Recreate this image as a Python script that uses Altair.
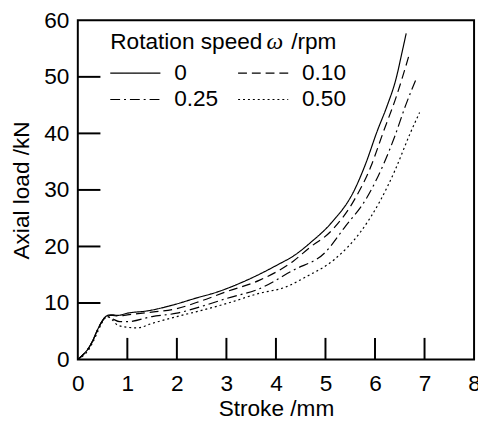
import altair as alt
import pandas as pd

# ---------------- data ----------------
series = ["0", "0.10", "0.25", "0.50"]

x_0 = [0, 0.1, 0.2, 0.3, 0.4, 0.5, 0.6, 0.7, 0.8, 1.0, 1.4, 1.9, 2.4, 2.8, 3.3, 4.0, 4.4, 4.7, 5.1, 5.58, 5.81, 6.04, 6.25, 6.42, 6.55, 6.63]
y_0 = [0, 0.8, 1.8, 3.3, 5.3, 6.9, 7.8, 7.9, 7.8, 8.2, 8.6, 9.6, 10.9, 11.9, 13.6, 16.6, 18.6, 20.7, 24.0, 29.9, 34.6, 40.3, 45.0, 49.5, 54.5, 57.7]

x_010 = [0, 0.1, 0.2, 0.3, 0.4, 0.5, 0.6, 0.7, 0.8, 1.0, 1.4, 2.0, 2.5, 3.0, 3.66, 4.35, 4.68, 5.1, 5.58, 5.91, 6.17, 6.43, 6.69]
y_010 = [0, 0.8, 1.8, 3.3, 5.3, 6.9, 7.8, 7.8, 7.7, 7.9, 8.3, 9.0, 10.4, 12.0, 14.0, 17.4, 19.8, 22.6, 28.2, 34.0, 40.3, 46.5, 53.9]

x_025 = [0, 0.1, 0.2, 0.3, 0.4, 0.5, 0.6, 0.7, 0.85, 1.0, 1.5, 2.0, 2.5, 3.0, 3.66, 4.35, 5.0, 5.38, 5.84, 6.17, 6.40, 6.62, 6.83]
y_025 = [0, 0.8, 1.8, 3.3, 5.3, 6.9, 7.6, 7.2, 6.7, 6.7, 7.6, 8.2, 9.4, 10.8, 12.5, 15.8, 19.0, 23.3, 28.7, 34.5, 39.5, 45.0, 49.6]

x_050 = [0, 0.1, 0.2, 0.3, 0.4, 0.5, 0.6, 0.7, 0.8, 1.0, 1.2, 1.5, 2.0, 2.5, 3.0, 3.66, 4.19, 4.6, 5.18, 5.71, 6.10, 6.40, 6.71, 6.90]
y_050 = [0, 0.6, 1.5, 3.0, 4.9, 6.7, 7.6, 7.0, 6.1, 5.7, 5.6, 6.4, 7.6, 8.7, 9.9, 11.7, 12.8, 14.6, 17.7, 22.6, 28.0, 33.4, 40.0, 43.7]

x_axis_values = [0, 1, 2, 3, 4, 5, 6, 7, 8]
y_axis_values = [0, 10, 20, 30, 40, 50, 60]
x_inner_ticks = [1, 2, 3, 4, 5, 6, 7]
y_inner_ticks = [10, 20, 30, 40, 50]

legend_title_a = "Rotation speed"
legend_title_b = "ω"
legend_title_c = "/rpm"

# ---------------- build tables ----------------
frames = []
for name, xs, ys in zip(series, [x_0, x_010, x_025, x_050], [y_0, y_010, y_025, y_050]):
    frames.append(pd.DataFrame({"stroke": xs, "load": ys, "speed": name}))
df = pd.concat(frames, ignore_index=True)

W, H = 403, 345
FONT = "Liberation Sans"
FS = 23

xscale = alt.Scale(domain=[0, 8], nice=False, zero=False)
yscale = alt.Scale(domain=[0, 60], nice=False)

lines = alt.Chart(df).mark_line(color="black", strokeWidth=1.2, interpolate="monotone").encode(
    x=alt.X("stroke:Q", scale=xscale,
            axis=alt.Axis(values=x_axis_values, title="Stroke /mm", ticks=False, tickSize=0,
                          domain=False, grid=False, labelPadding=14, titlePadding=2,
                          labelFlush=False)),
    y=alt.Y("load:Q", scale=yscale,
            axis=alt.Axis(values=y_axis_values, title="Axial load /kN", ticks=False, tickSize=0,
                          domain=False, grid=False, labelPadding=9, titlePadding=11)),
    strokeDash=alt.StrokeDash(
        "speed:N",
        scale=alt.Scale(domain=series, range=[[1, 0], [9, 5], [10, 4, 2, 4], [2, 3]]),
        legend=alt.Legend(orient="none", legendX=47, legendY=42, columns=2, direction="horizontal",
                          title=None,
                          symbolType="M-2.5,0H2.5", symbolSize=416, symbolStrokeWidth=1.2,
                          symbolStrokeColor="black", symbolFillColor="transparent",
                          labelFontSize=FS, labelFont=FONT,
                          labelColor="black", labelOffset=28, columnPadding=17,
                          rowPadding=3, padding=0),
    ),
)

ytick = alt.Chart(pd.DataFrame({"load": y_inner_ticks})).mark_rule(color="black", strokeWidth=2).encode(
    y=alt.Y("load:Q", scale=yscale), x=alt.value(0), x2=alt.value(23)
)
xtick = alt.Chart(pd.DataFrame({"stroke": x_inner_ticks})).mark_rule(color="black", strokeWidth=2).encode(
    x=alt.X("stroke:Q", scale=xscale), y=alt.value(H), y2=alt.value(H - 22)
)

def label(txt, xpos, size, font, style="normal"):
    return alt.Chart(pd.DataFrame({"t": [txt]})).mark_text(
        align="left", baseline="middle", fontSize=size, font=font, fontStyle=style, color="black"
    ).encode(text="t:N", x=alt.value(xpos), y=alt.value(22))

t1 = label(legend_title_a, 33, 23, FONT)
t2 = label(legend_title_b, 192, 24, "Liberation Serif", "italic")
t3 = label(legend_title_c, 217, 23, FONT)

chart = alt.layer(lines, ytick, xtick, t1, t2, t3).properties(
    width=W, height=H,
    autosize=alt.AutoSizeParams(type="none"),
    padding={"left": 71, "top": 9, "right": 4, "bottom": 60},
).configure_view(stroke="black", strokeWidth=2).configure_axis(
    labelFont=FONT, titleFont=FONT, labelFontSize=FS, titleFontSize=FS,
    labelColor="black", titleColor="black", titleFontWeight="normal"
)

chart.save("out.html", embed_options={"renderer": "svg", "actions": False})
